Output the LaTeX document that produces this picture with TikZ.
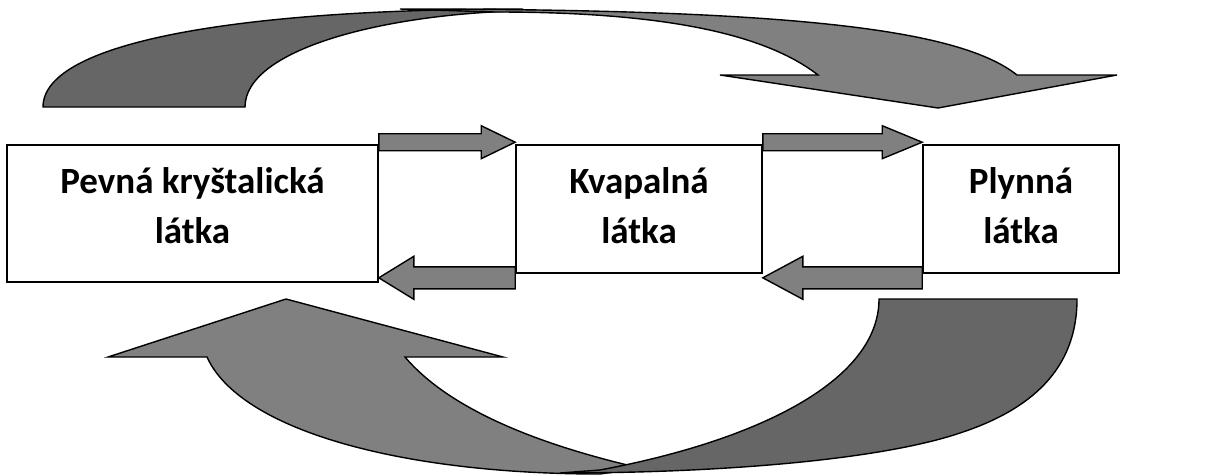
\documentclass[tikz,border=0pt]{standalone}
\usepackage{fontspec}
\setmainfont{Carlito}
\usetikzlibrary{calc}

\definecolor{backgray}{HTML}{666666}
\definecolor{frontgray}{HTML}{808080}

\tikzset{
  box/.style={draw, line width=1.6pt, fill=white, inner sep=0pt},
  boxtext/.style={font=\fontsize{37}{50}\selectfont\bfseries, align=center, anchor=base, inner sep=0pt},
  smallarrow/.style={draw, line width=1.4pt, fill=frontgray, line join=miter},
  backband/.style={draw, line width=1.4pt, fill=backgray},
  frontband/.style={draw, line width=1.4pt, fill=frontgray, line join=miter}
}

% tail, tip, shaft half width, head half width, head length
\newcommand{\blockarrow}[5]{
  \path (#1) coordinate (ba-tail) (#2) coordinate (ba-tip);
  \coordinate (ba-neck) at ($(ba-tip)!#5!(ba-tail)$);
  \draw[smallarrow] ($(ba-tail)!#3!90:(ba-tip)$) -- ($(ba-neck)!#3!90:(ba-tip)$)
    -- ($(ba-neck)!#4!90:(ba-tip)$) -- (ba-tip) -- ($(ba-neck)!#4!-90:(ba-tip)$)
    -- ($(ba-neck)!#3!-90:(ba-tip)$) -- ($(ba-tail)!#3!-90:(ba-tip)$) -- cycle;
}

\begin{document}
\begin{tikzpicture}[x=1pt, y=-1pt]
    \useasboundingbox (0,0) rectangle (1225,474);

    \draw[backband] (43,107) .. controls (43,40) and (250,9) .. (520,9) -- (515,11)
        .. controls (380,15) and (245,50) .. (245,107) -- cycle;
    \draw[frontband] (400,9) .. controls (800,9) and (960,30) .. (1017,75) -- (1117,75)
        -- (938,108) -- (720,75) -- (818,75) .. controls (760,30) and (650,12) .. (495,12) -- cycle;

    \node[box, minimum width=371pt, minimum height=137pt] (pevna) at (192.5,213.5) {};
    \node[box, minimum width=246pt, minimum height=128pt] (kvapalna) at (639,209) {};
    \node[box, minimum width=196pt, minimum height=128pt] (plynna) at (1021,209) {};

    \node[boxtext] (pevnaT) at (192.5,243) {Pevná kryštalická\\látka};
    \node[boxtext] (kvapalnaT) at (639,243) {Kvapalná\\látka};
    \node[boxtext] (plynnaT) at (1021,243) {Plynná\\látka};

    \blockarrow{[yshift=2pt]pevna.north east}{[yshift=2pt]kvapalna.north west}{8.5pt}{16.5pt}{34pt}
    \blockarrow{[yshift=2pt]kvapalna.north east}{[yshift=2pt]plynna.north west}{8.5pt}{16.5pt}{40pt}
    \coordinate (kq) at ([yshift=-4pt]kvapalna.south west);
    \coordinate (pq) at ([yshift=-4pt]plynna.south west);
    \blockarrow{kq}{pevna.east |- kq}{11pt}{21.5pt}{35pt}
    \blockarrow{pq}{kvapalna.east |- pq}{11pt}{21.5pt}{40pt}

    \draw[frontband] (286,299) -- (503,357) -- (405,357) .. controls (450,410) and (540,445) .. (640,468)
        -- (600,474) .. controls (400,474) and (240,430) .. (207,357) -- (108,357) -- cycle;
    \draw[backband] (879,299) -- (1077,299) .. controls (1077,370) and (1030,410) .. (960,433)
        .. controls (880,460) and (720,473) .. (560,473) -- (600,470)
        .. controls (760,440) and (879,380) .. (879,299) -- cycle;
\end{tikzpicture}
\end{document}
